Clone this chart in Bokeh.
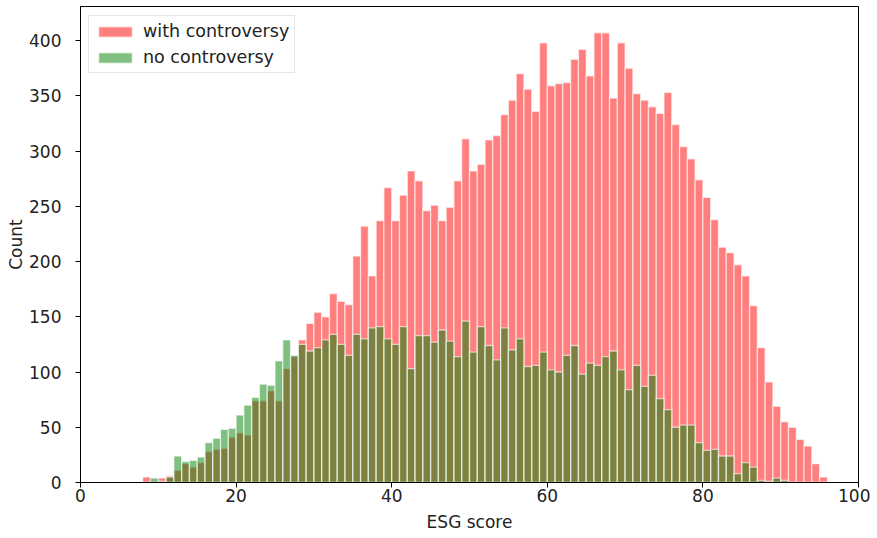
from bokeh.plotting import figure
from bokeh.models import Range1d, FixedTicker
from bokeh.embed import file_html
from bokeh.resources import INLINE

# histogram bins (left edge of each 1-point bin of ESG score)
bin_left = [8, 9, 10, 11, 12, 13, 14, 15, 16, 17, 18, 19, 20, 21, 22, 23, 24, 25, 26, 27,
            28, 29, 30, 31, 32, 33, 34, 35, 36, 37, 38, 39, 40, 41, 42, 43, 44, 45, 46, 47,
            48, 49, 50, 51, 52, 53, 54, 55, 56, 57, 58, 59, 60, 61, 62, 63, 64, 65, 66, 67,
            68, 69, 70, 71, 72, 73, 74, 75, 76, 77, 78, 79, 80, 81, 82, 83, 84, 85, 86, 87,
            88, 89, 90, 91, 92, 93, 94, 95]
bin_width = 1

with_controversy = [5, 1, 4, 6, 11, 17, 14, 18, 28, 30, 31, 41, 45, 43, 74, 74, 83, 74, 103, 114,
                    129, 144, 154, 150, 171, 164, 161, 205, 232, 187, 237, 267, 237, 260, 282, 273, 246, 251, 237, 249,
                    273, 311, 282, 288, 310, 314, 333, 346, 370, 356, 336, 398, 359, 361, 362, 383, 392, 368, 407, 407,
                    348, 398, 375, 352, 346, 340, 334, 353, 324, 304, 293, 274, 258, 238, 213, 208, 197, 187, 160, 122,
                    91, 69, 55, 50, 39, 33, 17, 5]

no_controversy = [0, 4, 1, 5, 24, 19, 20, 23, 36, 40, 48, 49, 61, 70, 77, 89, 88, 110, 129, 115,
                  125, 119, 122, 129, 134, 125, 115, 134, 130, 140, 141, 130, 125, 141, 103, 133, 133, 127, 138, 128,
                  114, 146, 118, 141, 124, 111, 140, 120, 130, 105, 106, 118, 102, 100, 115, 124, 98, 108, 106, 114,
                  119, 102, 84, 106, 87, 97, 76, 66, 50, 52, 52, 36, 29, 30, 24, 24, 8, 18, 14, 2,
                  1, 4, 2, 0, 0, 0, 0, 0]

x_ticks = [0, 20, 40, 60, 80, 100]
y_ticks = [0, 50, 100, 150, 200, 250, 300, 350, 400]

FONT = "DejaVu Sans"
FS = "17px"

p = figure(width=870, height=536, output_backend="svg", toolbar_location=None,
           x_range=Range1d(0, 100), y_range=Range1d(0, 430.8))
p.min_border_left = 80
p.min_border_right = 12
p.min_border_top = 6
p.min_border_bottom = 54

bin_right = [b + bin_width for b in bin_left]

p.quad(left=bin_left, right=bin_right, bottom=0, top=with_controversy,
       fill_color="red", fill_alpha=0.5, line_color="white", line_alpha=0.6, line_width=1.3,
       legend_label="with controversy")
p.quad(left=bin_left, right=bin_right, bottom=0, top=no_controversy,
       fill_color="green", fill_alpha=0.5, line_color="white", line_alpha=0.6, line_width=1.3,
       legend_label="no controversy")

p.xgrid.visible = False
p.ygrid.visible = False
p.outline_line_color = "black"
p.outline_line_width = 1
p.background_fill_color = "white"
p.border_fill_color = "white"

for ax in (p.xaxis[0], p.yaxis[0]):
    ax.axis_line_color = "black"
    ax.major_tick_line_color = "black"
    ax.major_tick_out = 5
    ax.major_tick_in = 0
    ax.minor_tick_line_color = None
    ax.major_label_text_font = FONT
    ax.major_label_text_font_size = FS
    ax.major_label_text_color = "#222222"
    ax.axis_label_text_font = FONT
    ax.axis_label_text_font_size = FS
    ax.axis_label_text_font_style = "normal"
    ax.axis_label_text_color = "#222222"

p.xaxis.ticker = FixedTicker(ticks=x_ticks)
p.yaxis.ticker = FixedTicker(ticks=y_ticks)
p.xaxis.axis_label = "ESG score"
p.yaxis.axis_label = "Count"
p.xaxis.major_label_standoff = 1
p.xaxis.axis_label_standoff = 7
p.yaxis.major_label_standoff = 14
p.yaxis.axis_label_standoff = 0

lg = p.legend[0]
lg.location = (8, 409)
lg.margin = 0
lg.padding = 5
lg.spacing = 6
lg.label_standoff = 7
lg.glyph_width = 42
lg.glyph_height = 13
lg.label_text_font = FONT
lg.label_text_font_size = "17.5px"
lg.label_text_color = "#222222"
lg.border_line_color = "#cccccc"
lg.border_line_width = 1
lg.background_fill_alpha = 0.8

with open("out.html", "w") as f:
    f.write(file_html(p, INLINE))
